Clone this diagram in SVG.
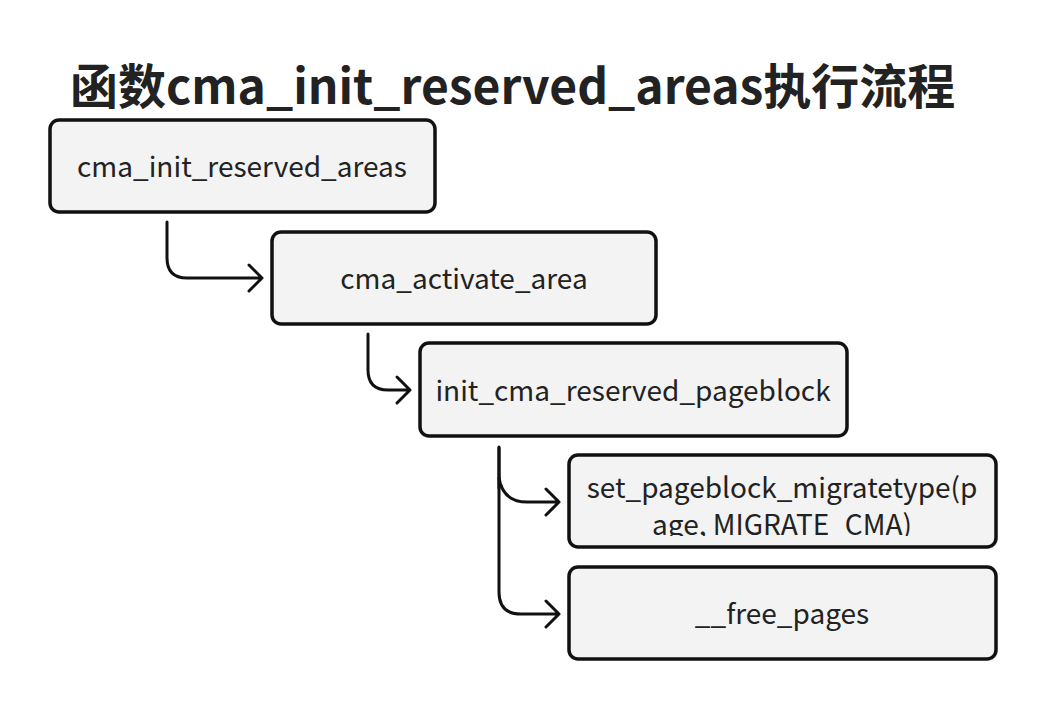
<svg xmlns="http://www.w3.org/2000/svg" width="1046" height="710" viewBox="0 0 1046 710">
<defs>
<style>
.box{fill:#f3f3f3;stroke:#111;stroke-width:3.5}
.lbl{font-family:"Noto Sans CJK SC","Noto Sans",sans-serif;font-size:28px;fill:#222;text-anchor:middle}
.title{font-family:"Noto Sans CJK SC","Noto Sans",sans-serif;font-size:48px;font-weight:bold;fill:#222}
.conn{fill:none;stroke:#111;stroke-width:3;stroke-linecap:round;stroke-linejoin:round}
</style>
<clipPath id="c4"><rect x="571" y="457" width="423" height="79"/></clipPath>
</defs>
<rect width="1046" height="710" fill="#fff"/>
<text class="title" x="70" y="104">函数cma_init_reserved_areas执行流程</text>
<g id="connectors">
<path class="conn" d="M167,222 V258 Q167,278 187,278 H262 M249,265 L262,278 L249,291"/>
<path class="conn" d="M368,334 V370 Q368,390 388,390 H410 M397,377 L410,390 L397,403"/>
<path class="conn" d="M499,447 V592 Q499,614 521,614 H559 M546,601 L559,614 L546,627" />
<path class="conn" d="M499,448 V488" stroke-width="4"/>
<path class="conn" d="M499,478 Q503,502 527,502 H559 M546,489 L559,502 L546,515"/>
</g>
<g id="n1"><rect class="box" x="50" y="120" width="385" height="92" rx="9"/><text class="lbl" x="242" y="177">cma_init_reserved_areas</text></g>
<g id="n2"><rect class="box" x="272" y="232" width="384" height="92" rx="9"/><text class="lbl" x="464" y="289">cma_activate_area</text></g>
<g id="n3"><rect class="box" x="420" y="343" width="427" height="93" rx="9"/><text class="lbl" x="633" y="401">init_cma_reserved_pageblock</text></g>
<g id="n4"><rect class="box" x="569" y="455" width="427" height="92" rx="9"/><g clip-path="url(#c4)"><text class="lbl" x="782" y="498">set_pageblock_migratetype(p</text><text class="lbl" x="782" y="535">age, MIGRATE_CMA)</text></g></g>
<g id="n5"><rect class="box" x="569" y="567" width="427" height="92" rx="9"/><text class="lbl" x="782" y="624">__free_pages</text></g>
</svg>
